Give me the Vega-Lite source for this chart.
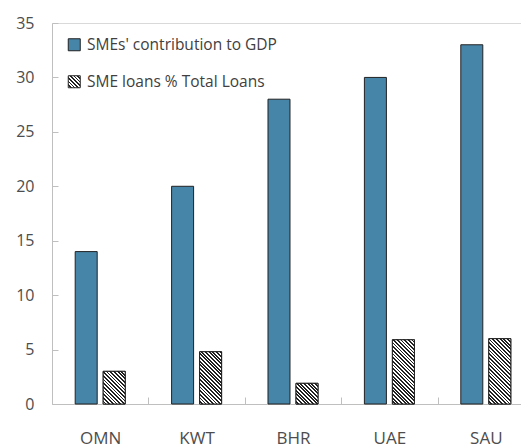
{
  "$schema": "https://vega.github.io/schema/vega-lite/v6.json",
  "autosize": {"type": "none"},
  "padding": {"left": 52, "top": 23, "right": 0, "bottom": 41},
  "width": 469,
  "height": 381,
  "params": [
    {"name": "hatch", "value": [
      {"offset": 0, "color": "#fff"},
      {"offset": 0.0208, "color": "#fff"}, {"offset": 0.0208, "color": "#222"},
      {"offset": 0.0417, "color": "#222"}, {"offset": 0.0417, "color": "#fff"},
      {"offset": 0.0625, "color": "#fff"}, {"offset": 0.0625, "color": "#222"},
      {"offset": 0.0833, "color": "#222"}, {"offset": 0.0833, "color": "#fff"},
      {"offset": 0.1042, "color": "#fff"}, {"offset": 0.1042, "color": "#222"},
      {"offset": 0.125, "color": "#222"}, {"offset": 0.125, "color": "#fff"},
      {"offset": 0.1458, "color": "#fff"}, {"offset": 0.1458, "color": "#222"},
      {"offset": 0.1667, "color": "#222"}, {"offset": 0.1667, "color": "#fff"},
      {"offset": 0.1875, "color": "#fff"}, {"offset": 0.1875, "color": "#222"},
      {"offset": 0.2083, "color": "#222"}, {"offset": 0.2083, "color": "#fff"},
      {"offset": 0.2292, "color": "#fff"}, {"offset": 0.2292, "color": "#222"},
      {"offset": 0.25, "color": "#222"}, {"offset": 0.25, "color": "#fff"},
      {"offset": 0.2708, "color": "#fff"}, {"offset": 0.2708, "color": "#222"},
      {"offset": 0.2917, "color": "#222"}, {"offset": 0.2917, "color": "#fff"},
      {"offset": 0.3125, "color": "#fff"}, {"offset": 0.3125, "color": "#222"},
      {"offset": 0.3333, "color": "#222"}, {"offset": 0.3333, "color": "#fff"},
      {"offset": 0.3542, "color": "#fff"}, {"offset": 0.3542, "color": "#222"},
      {"offset": 0.375, "color": "#222"}, {"offset": 0.375, "color": "#fff"},
      {"offset": 0.3958, "color": "#fff"}, {"offset": 0.3958, "color": "#222"},
      {"offset": 0.4167, "color": "#222"}, {"offset": 0.4167, "color": "#fff"},
      {"offset": 0.4375, "color": "#fff"}, {"offset": 0.4375, "color": "#222"},
      {"offset": 0.4583, "color": "#222"}, {"offset": 0.4583, "color": "#fff"},
      {"offset": 0.4792, "color": "#fff"}, {"offset": 0.4792, "color": "#222"},
      {"offset": 0.5, "color": "#222"}, {"offset": 0.5, "color": "#fff"},
      {"offset": 0.5208, "color": "#fff"}, {"offset": 0.5208, "color": "#222"},
      {"offset": 0.5417, "color": "#222"}, {"offset": 0.5417, "color": "#fff"},
      {"offset": 0.5625, "color": "#fff"}, {"offset": 0.5625, "color": "#222"},
      {"offset": 0.5833, "color": "#222"}, {"offset": 0.5833, "color": "#fff"},
      {"offset": 0.6042, "color": "#fff"}, {"offset": 0.6042, "color": "#222"},
      {"offset": 0.625, "color": "#222"}, {"offset": 0.625, "color": "#fff"},
      {"offset": 0.6458, "color": "#fff"}, {"offset": 0.6458, "color": "#222"},
      {"offset": 0.6667, "color": "#222"}, {"offset": 0.6667, "color": "#fff"},
      {"offset": 0.6875, "color": "#fff"}, {"offset": 0.6875, "color": "#222"},
      {"offset": 0.7083, "color": "#222"}, {"offset": 0.7083, "color": "#fff"},
      {"offset": 0.7292, "color": "#fff"}, {"offset": 0.7292, "color": "#222"},
      {"offset": 0.75, "color": "#222"}, {"offset": 0.75, "color": "#fff"},
      {"offset": 0.7708, "color": "#fff"}, {"offset": 0.7708, "color": "#222"},
      {"offset": 0.7917, "color": "#222"}, {"offset": 0.7917, "color": "#fff"},
      {"offset": 0.8125, "color": "#fff"}, {"offset": 0.8125, "color": "#222"},
      {"offset": 0.8333, "color": "#222"}, {"offset": 0.8333, "color": "#fff"},
      {"offset": 0.8542, "color": "#fff"}, {"offset": 0.8542, "color": "#222"},
      {"offset": 0.875, "color": "#222"}, {"offset": 0.875, "color": "#fff"},
      {"offset": 0.8958, "color": "#fff"}, {"offset": 0.8958, "color": "#222"},
      {"offset": 0.9167, "color": "#222"}, {"offset": 0.9167, "color": "#fff"},
      {"offset": 0.9375, "color": "#fff"}, {"offset": 0.9375, "color": "#222"},
      {"offset": 0.9583, "color": "#222"}, {"offset": 0.9583, "color": "#fff"},
      {"offset": 0.9792, "color": "#fff"}, {"offset": 0.9792, "color": "#222"},
      {"offset": 1, "color": "#222"}
    ]}
  ],
  "data": {
    "values": [
      {"country": "OMN", "series": "SMEs' contribution to GDP", "value": 14},
      {"country": "OMN", "series": "SME loans % Total Loans", "value": 3},
      {"country": "KWT", "series": "SMEs' contribution to GDP", "value": 20},
      {"country": "KWT", "series": "SME loans % Total Loans", "value": 4.8},
      {"country": "BHR", "series": "SMEs' contribution to GDP", "value": 28},
      {"country": "BHR", "series": "SME loans % Total Loans", "value": 1.9},
      {"country": "UAE", "series": "SMEs' contribution to GDP", "value": 30},
      {"country": "UAE", "series": "SME loans % Total Loans", "value": 5.9},
      {"country": "SAU", "series": "SMEs' contribution to GDP", "value": 33},
      {"country": "SAU", "series": "SME loans % Total Loans", "value": 6}
    ]
  },
  "encoding": {
    "x": {
      "field": "country", "type": "nominal",
      "sort": ["OMN", "KWT", "BHR", "UAE", "SAU"],
      "scale": {"range": [0, 482], "paddingInner": 0, "paddingOuter": 0},
      "axis": {
        "title": null, "labelAngle": 0, "tickBand": "extent",
        "tickSize": -7, "labelPadding": 33,
        "domainColor": "#bfbfbf", "tickColor": "#bfbfbf",
        "labelFont": "Open Sans", "labelFontSize": 17, "labelColor": "#4d4d4d",
        "grid": false
      }
    },
    "xOffset": {
      "field": "series", "type": "nominal",
      "scale": {"domain": ["SMEs' contribution to GDP", "SME loans % Total Loans"], "paddingInner": 0.2143, "paddingOuter": 0.8285}
    },
    "y": {
      "field": "value", "type": "quantitative",
      "scale": {"domain": [0, 35], "nice": false},
      "axis": {
        "title": null, "values": [0, 5, 10, 15, 20, 25, 30, 35],
        "tickSize": -6, "labelPadding": 24,
        "domainColor": "#bfbfbf", "tickColor": "#bfbfbf",
        "labelFont": "Open Sans", "labelFontSize": 16, "labelColor": "#4d4d4d",
        "grid": true, "gridColor": "#d9d9d9",
        "gridOpacity": {"condition": {"test": "datum.value === 35", "value": 1}, "value": 0}
      }
    }
  },
  "layer": [
    {
      "mark": {"type": "bar", "stroke": "#222", "strokeWidth": 1},
      "encoding": {
        "color": {
          "field": "series", "type": "nominal",
          "scale": {
            "domain": ["SMEs' contribution to GDP", "SME loans % Total Loans"],
            "range": ["#4785a8", {"expr": "{gradient: 'linear', x1: 0, y1: 1, x2: 3.677, y2: -2.677, stops: hatch}"}]
          },
          "legend": {
            "title": null, "orient": "none", "legendX": 14.5, "legendY": 14,
            "padding": 0, "symbolType": "square", "symbolSize": 144,
            "symbolStrokeColor": "#222", "symbolStrokeWidth": 1,
            "labelFont": "Open Sans", "labelFontSize": 15.5, "labelColor": "#404040",
            "labelOffset": 5, "rowPadding": 19, "labelLimit": 400
          }
        }
      }
    },
    {
      "transform": [{"filter": "datum.series === 'SME loans % Total Loans'"}],
      "mark": {
        "type": "bar", "stroke": "#222", "strokeWidth": 1,
        "fill": {"expr": "datum.country === 'OMN' ? {gradient: 'linear', x1: 0, y1: 1, x2: 1.2521, y2: -0.8586, stops: hatch} : datum.country === 'KWT' ? {gradient: 'linear', x1: 0, y1: 1, x2: 0.6040, y2: -0.4346, stops: hatch} : datum.country === 'BHR' ? {gradient: 'linear', x1: 0, y1: 1, x2: 2.1293, y2: -1.0018, stops: hatch} : datum.country === 'UAE' ? {gradient: 'linear', x1: 0, y1: 1, x2: 0.4212, y2: -0.2297, stops: hatch} : {gradient: 'linear', x1: 0, y1: 1, x2: 0.4087, y2: -0.2134, stops: hatch}"}
      }
    }
  ],
  "config": {
    "view": {"stroke": null},
    "font": "Open Sans"
  }
}
